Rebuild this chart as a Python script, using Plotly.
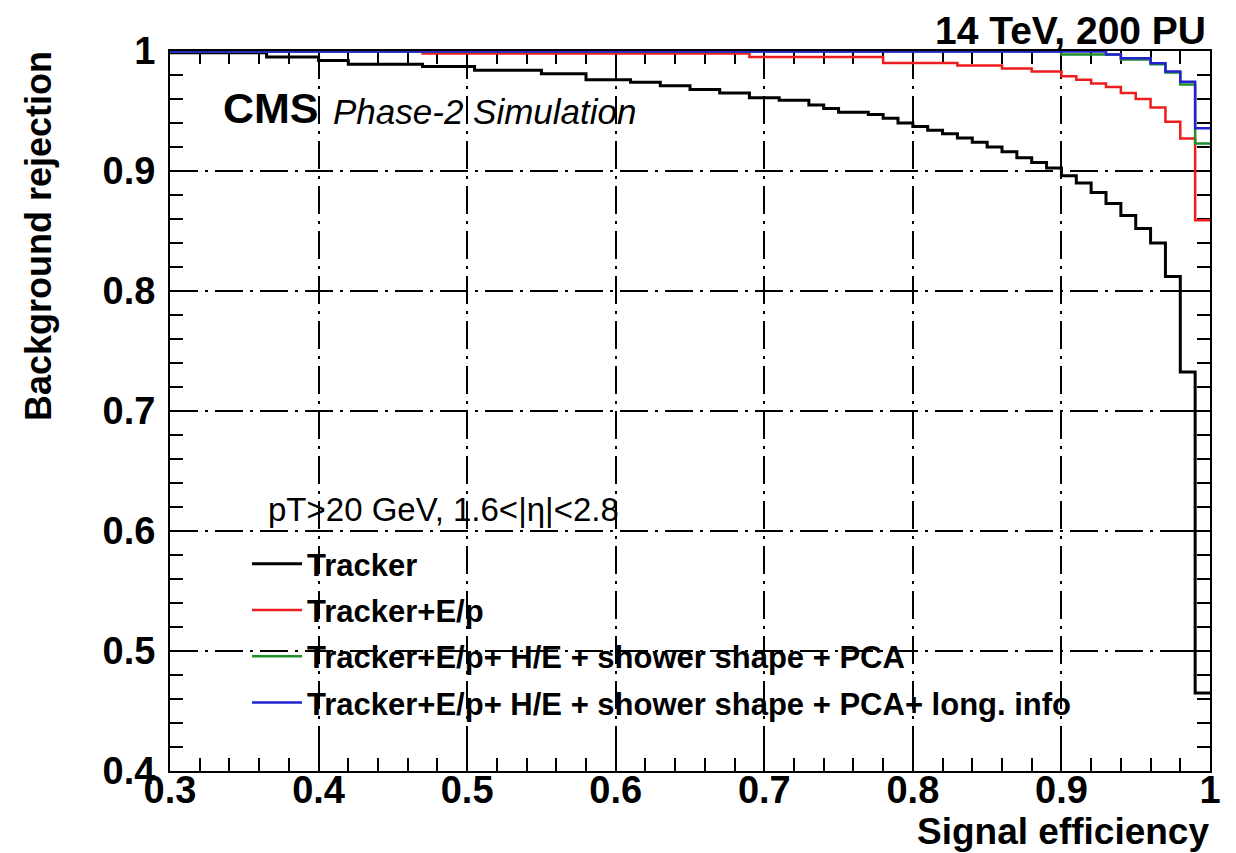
import plotly.graph_objects as go

# ---- data ----
edges_tracker = [0.30, 0.365, 0.40, 0.42, 0.47, 0.505, 0.55, 0.58, 0.61, 0.63,
                 0.65, 0.67, 0.69, 0.71, 0.73, 0.74, 0.75, 0.77, 0.78, 0.79,
                 0.80, 0.81, 0.82, 0.83, 0.84, 0.85, 0.86, 0.87, 0.88, 0.89,
                 0.90, 0.91, 0.92, 0.93, 0.94, 0.95, 0.96, 0.97, 0.98, 0.99, 1.00]
rej_tracker = [0.9985, 0.995, 0.992, 0.989, 0.987, 0.984, 0.981, 0.976, 0.974, 0.971,
               0.968, 0.965, 0.961, 0.959, 0.955, 0.952, 0.949, 0.947, 0.944, 0.940,
               0.937, 0.934, 0.931, 0.9275, 0.924, 0.920, 0.916, 0.911, 0.907, 0.9025,
               0.896, 0.890, 0.882, 0.873, 0.863, 0.852, 0.840, 0.812, 0.7325, 0.465]

edges_ep = [0.30, 0.47, 0.69, 0.78, 0.83, 0.86, 0.88, 0.90, 0.91, 0.92,
            0.93, 0.94, 0.95, 0.96, 0.97, 0.98, 0.99, 1.00]
rej_ep = [0.9998, 0.998, 0.995, 0.990, 0.988, 0.9855, 0.983, 0.979, 0.976,
          0.973, 0.970, 0.965, 0.960, 0.953, 0.941, 0.927, 0.859]

edges_pca = [0.30, 0.90, 0.94, 0.96, 0.97, 0.98, 0.99, 1.00]
rej_pca = [0.9995, 0.997, 0.993, 0.989, 0.982, 0.972, 0.923]

edges_long = [0.30, 0.93, 0.94, 0.96, 0.97, 0.98, 0.99, 1.00]
rej_long = [0.9995, 0.997, 0.994, 0.9897, 0.983, 0.9744, 0.9356]

names = ["Tracker", "Tracker+E/p", "Tracker+E/p+ H/E + shower shape + PCA",
         "Tracker+E/p+ H/E + shower shape + PCA+ long. info"]
colors = ["#000000", "#ee1c1c", "#1f8f2a", "#2222d0"]
widths = [3, 2.5, 2.5, 2.5]
series = [(edges_tracker, rej_tracker), (edges_ep, rej_ep),
          (edges_pca, rej_pca), (edges_long, rej_long)]

xtick_vals = [0.3, 0.4, 0.5, 0.6, 0.7, 0.8, 0.9, 1.0]
xtick_text = ["0.3", "0.4", "0.5", "0.6", "0.7", "0.8", "0.9", "1"]
ytick_vals = [0.4, 0.5, 0.6, 0.7, 0.8, 0.9, 1.0]
ytick_text = ["0.4", "0.5", "0.6", "0.7", "0.8", "0.9", "1"]

legend_header = "pT>20 GeV, 1.6<|η|<2.8"

FONT = "Liberation Sans, Arial, sans-serif"

fig = go.Figure()
for i, ((e, v), n, c, w) in enumerate(zip(series, names, colors, widths)):
    fig.add_trace(go.Scatter(
        x=e, y=list(v) + [v[-1]], mode="lines", name=n,
        line=dict(color=c, width=w, shape="hv"),
        legendgroup="g%d" % i,
    ))

W, H = 1236, 853
L, R, T, B = 170, 26, 51, 82
pw, ph = W - L - R, H - T - B
def px(xp):
    return (xp - L) / pw
def py(yp):
    return (H - B - yp) / ph

axis_common = dict(
    showline=True, linecolor="black", linewidth=2, mirror="allticks",
    ticks="inside", ticklen=26, tickwidth=2, tickcolor="black",
    showgrid=True, gridcolor="black", gridwidth=2, griddash="28px,7px,3px,7px",
    zeroline=False, layer="below traces",
    tickfont=dict(family=FONT, size=38, color="black", weight="bold"),
)

fig.update_layout(
    width=W, height=H,
    margin=dict(l=L, r=R, t=T, b=B, pad=0),
    paper_bgcolor="white", plot_bgcolor="white",
    font=dict(family=FONT, color="black"),
    xaxis=dict(range=[0.3, 1.0], tickvals=xtick_vals, ticktext=xtick_text,
               minor=dict(dtick=0.02, tick0=0.3, ticks="inside", ticklen=13,
                          tickwidth=2, tickcolor="black", showgrid=False),
               ticklabelstandoff=-16,
               **axis_common),
    yaxis=dict(range=[0.4, 1.0], tickvals=ytick_vals, ticktext=ytick_text,
               minor=dict(dtick=0.02, tick0=0.4, ticks="inside", ticklen=13,
                          tickwidth=2, tickcolor="black", showgrid=False),
               ticklabelstandoff=5,
               **axis_common),
    showlegend=True,
    legend=dict(
        x=px(247), y=py(537),
        xanchor="left", yanchor="top",
        bgcolor="rgba(0,0,0,0)", borderwidth=0,
        itemwidth=50, tracegroupgap=3,
        font=dict(family=FONT, size=31, color="black", weight="bold"),
    ),
)

annos = [
    dict(text=legend_header, x=px(266), y=py(509), xanchor="left", yanchor="middle",
         font=dict(family=FONT, size=33, weight="normal")),
    dict(text="CMS", x=px(221), y=py(108), xanchor="left", yanchor="middle",
         font=dict(family=FONT, size=43, weight="bold")),
    dict(text="<i>Phase-2 Simulation</i>", x=px(331), y=py(111), xanchor="left",
         yanchor="middle", font=dict(family=FONT, size=35)),
    dict(text="14 TeV, 200 PU", x=px(1208), y=py(30), xanchor="right",
         yanchor="middle", font=dict(family=FONT, size=39, weight="bold")),
    dict(text="Signal efficiency", x=px(1211), y=py(831), xanchor="right",
         yanchor="middle", font=dict(family=FONT, size=37, weight="bold")),
    dict(text="Background rejection", x=px(38), y=py(49), xanchor="center",
         yanchor="top", textangle=-90, font=dict(family=FONT, size=36, weight="bold")),
]
for a in annos:
    a.update(xref="paper", yref="paper", showarrow=False)
    a["font"].setdefault("color", "black")
    fig.add_annotation(**a)

fig.write_html("out.html")
